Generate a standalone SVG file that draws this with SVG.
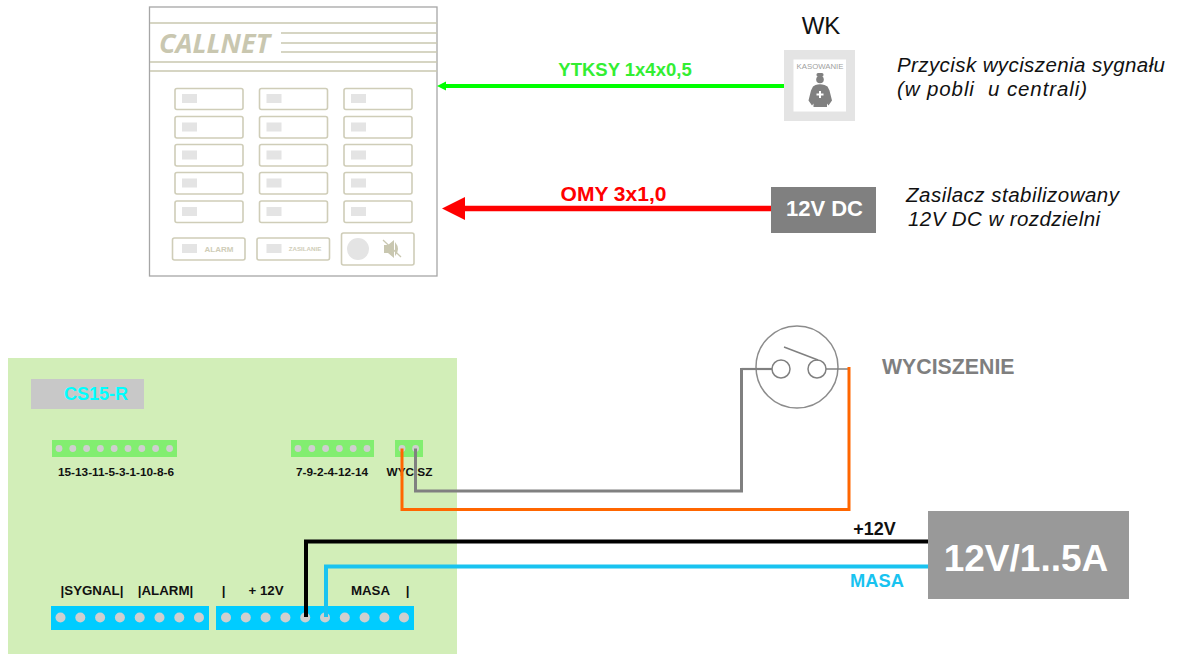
<svg xmlns="http://www.w3.org/2000/svg" width="1179" height="654" viewBox="0 0 1179 654">
<style>
text{font-family:"Liberation Sans",Arial,sans-serif}
.tan{fill:none;stroke:#c9c7b0;stroke-width:1.5}
.btn{fill:#fff;stroke:#cfcdb8;stroke-width:1.6}
.led{fill:#e4e4e4}
.pin{fill:#cfcfcf}
.lbl{font-weight:bold;font-size:11.800px;fill:#111;text-anchor:middle}
.lbl2{font-weight:bold;font-size:13.300px;fill:#111;text-anchor:middle}
.it{font-style:italic;font-size:20.500px;fill:#111;white-space:pre}
.wire{fill:none}
</style>
<g id="panel">
<rect x="149.500" y="7" width="287.500" height="269" fill="#fff" stroke="#a6a6a6" stroke-width="1.300"/>
<path class="tan" d="M150 23H437M150 62H437M150 71H437M281 33H437M281 43H437M281 52H437"/>
<text x="159" y="53" font-size="27" font-weight="bold" font-style="italic" fill="#c9c7b0" textLength="111" lengthAdjust="spacingAndGlyphs" style="font-family:'Open Sans',sans-serif">CALLNET</text>
<g id="panel-buttons">
<rect class="btn" x="175" y="88.500" width="68" height="21" rx="2"/><rect class="led" x="182" y="94" width="15" height="9"/>
<rect class="btn" x="259.500" y="88.500" width="68" height="21" rx="2"/><rect class="led" x="266.500" y="94" width="15" height="9"/>
<rect class="btn" x="344" y="88.500" width="68" height="21" rx="2"/><rect class="led" x="351" y="94" width="15" height="9"/>
<rect class="btn" x="175" y="116.500" width="68" height="21.500" rx="2"/><rect class="led" x="182" y="122.500" width="15" height="9"/>
<rect class="btn" x="259.500" y="116.500" width="68" height="21.500" rx="2"/><rect class="led" x="266.500" y="122.500" width="15" height="9"/>
<rect class="btn" x="344" y="116.500" width="68" height="21.500" rx="2"/><rect class="led" x="351" y="122.500" width="15" height="9"/>
<rect class="btn" x="175" y="144.500" width="68" height="21.500" rx="2"/><rect class="led" x="182" y="150.500" width="15" height="9"/>
<rect class="btn" x="259.500" y="144.500" width="68" height="21.500" rx="2"/><rect class="led" x="266.500" y="150.500" width="15" height="9"/>
<rect class="btn" x="344" y="144.500" width="68" height="21.500" rx="2"/><rect class="led" x="351" y="150.500" width="15" height="9"/>
<rect class="btn" x="175" y="172.500" width="68" height="21.500" rx="2"/><rect class="led" x="182" y="178.500" width="15" height="9"/>
<rect class="btn" x="259.500" y="172.500" width="68" height="21.500" rx="2"/><rect class="led" x="266.500" y="178.500" width="15" height="9"/>
<rect class="btn" x="344" y="172.500" width="68" height="21.500" rx="2"/><rect class="led" x="351" y="178.500" width="15" height="9"/>
<rect class="btn" x="175" y="201" width="68" height="21.500" rx="2"/><rect class="led" x="182" y="207" width="15" height="9"/>
<rect class="btn" x="259.500" y="201" width="68" height="21.500" rx="2"/><rect class="led" x="266.500" y="207" width="15" height="9"/>
<rect class="btn" x="344" y="201" width="68" height="21.500" rx="2"/><rect class="led" x="351" y="207" width="15" height="9"/>
</g>
<rect class="btn" x="172.500" y="238" width="72.500" height="22" rx="2"/><rect class="led" x="182" y="244" width="15" height="9"/>
<text x="219" y="252" font-size="8" font-weight="bold" fill="#cfcdb8" text-anchor="middle">ALARM</text>
<rect class="btn" x="257" y="238" width="72.500" height="22" rx="2"/><rect class="led" x="266.500" y="244" width="15" height="9"/>
<text x="305" y="251" font-size="6.200" font-weight="bold" fill="#cfcdb8" text-anchor="middle">ZASILANIE</text>
<rect class="btn" x="341.500" y="233" width="72.500" height="32" rx="2"/>
<circle cx="358" cy="249" r="11" fill="#e4e4e4"/>
<path d="M384 245h4l6-5v18l-6-5h-4z" fill="#c9c7b0"/>
<path d="M395 242q6 7 0 14z" fill="#c9c7b0"/>
<path d="M383 240L401 257" stroke="#c9c7b0" stroke-width="1.300"/>
</g>
<g id="wk">
<text x="821" y="34" font-size="24" fill="#111" text-anchor="middle">WK</text>
<rect x="784" y="50" width="71" height="71" fill="#e4e4e4"/>
<rect x="793.500" y="59.500" width="52.500" height="52" fill="#fff"/>
<text x="820" y="68.500" font-size="7.800" fill="#a0a0a0" text-anchor="middle">KASOWANIE</text>
<circle cx="820" cy="79.500" r="3.800" fill="#808080"/>
<rect x="816.500" y="73" width="7" height="3.500" rx="1.500" fill="#808080"/>
<path d="M815.500 85q4.500-1.500 9 0l3 1.500 2 4 2.500 10-3.500 5-1.500-2v3.500h-13.500v-3.500l-1.500 2-3.500-5 2.500-10 2-4z" fill="#808080"/>
<path d="M819 91h2v2.500h2.500v2h-2.500v2.500h-2v-2.500h-2.500v-2h2.500z" fill="#fff"/>
</g>
<g id="psu-small">
<rect x="771" y="187" width="105" height="46" fill="#808080"/>
<text x="824.500" y="216" font-size="22" font-weight="bold" fill="#fff" text-anchor="middle">12V DC</text>
</g>
<g id="notes">
<text class="it" x="897" y="72" textLength="268">Przycisk wyciszenia sygnału</text>
<text class="it" x="897" y="96" textLength="190">(w pobli  u centrali)</text>
<text class="it" x="906" y="202" textLength="213">Zasilacz stabilizowany</text>
<text class="it" x="908" y="226" textLength="192">12V DC w rozdzielni</text>
</g>
<g id="board">
<rect x="8" y="358" width="449" height="296" fill="#d2eeb8"/>
<rect x="31" y="379" width="113" height="30" fill="#c8c8c8"/>
<text x="96" y="400" font-size="18" font-weight="bold" fill="#00ffff" text-anchor="middle">CS15-R</text>
<g id="term-a">
<rect x="52" y="440" width="125" height="17" fill="#82ee70"/>
<circle class="pin" cx="59" cy="448.500" r="3.400"/><circle class="pin" cx="72.800" cy="448.500" r="3.400"/><circle class="pin" cx="86.600" cy="448.500" r="3.400"/><circle class="pin" cx="100.400" cy="448.500" r="3.400"/><circle class="pin" cx="114.200" cy="448.500" r="3.400"/><circle class="pin" cx="128" cy="448.500" r="3.400"/><circle class="pin" cx="141.800" cy="448.500" r="3.400"/><circle class="pin" cx="155.600" cy="448.500" r="3.400"/><circle class="pin" cx="169.600" cy="448.500" r="3.400"/>
<text class="lbl" x="116" y="475.500">15-13-11-5-3-1-10-8-6</text>
</g>
<g id="term-b">
<rect x="291" y="440" width="83" height="17" fill="#82ee70"/>
<circle class="pin" cx="298" cy="448.500" r="3.400"/><circle class="pin" cx="311.800" cy="448.500" r="3.400"/><circle class="pin" cx="325.600" cy="448.500" r="3.400"/><circle class="pin" cx="339.400" cy="448.500" r="3.400"/><circle class="pin" cx="353.200" cy="448.500" r="3.400"/><circle class="pin" cx="367" cy="448.500" r="3.400"/>
<text class="lbl" x="332" y="475.500">7-9-2-4-12-14</text>
</g>
<g id="term-c">
<rect x="395" y="440" width="28" height="17" fill="#82ee70"/>
<circle class="pin" cx="402" cy="448.500" r="3.400"/><circle class="pin" cx="415.600" cy="448.500" r="3.400"/>
<text class="lbl" x="409.500" y="475.500">WYC SZ</text>
</g>
<g id="term-d">
<rect x="51" y="606" width="158" height="24" fill="#00ccff"/>
<circle class="pin" cx="60.500" cy="617.500" r="5"/><circle class="pin" cx="80.300" cy="617.500" r="5"/><circle class="pin" cx="100.100" cy="617.500" r="5"/><circle class="pin" cx="119.900" cy="617.500" r="5"/><circle class="pin" cx="139.700" cy="617.500" r="5"/><circle class="pin" cx="159.500" cy="617.500" r="5"/><circle class="pin" cx="179.300" cy="617.500" r="5"/><circle class="pin" cx="199" cy="617.500" r="5"/>
<text class="lbl2" x="92" y="595">|SYGNAL|</text>
<text class="lbl2" x="165.500" y="595">|ALARM|</text>
</g>
<g id="term-e">
<rect x="216" y="606" width="198" height="24" fill="#00ccff"/>
<circle class="pin" cx="226" cy="617.500" r="5"/><circle class="pin" cx="245.800" cy="617.500" r="5"/><circle class="pin" cx="265.600" cy="617.500" r="5"/><circle class="pin" cx="285.400" cy="617.500" r="5"/><circle class="pin" cx="305.200" cy="617.500" r="5"/><circle class="pin" cx="325" cy="617.500" r="5"/><circle class="pin" cx="344.800" cy="617.500" r="5"/><circle class="pin" cx="364.600" cy="617.500" r="5"/><circle class="pin" cx="384.400" cy="617.500" r="5"/><circle class="pin" cx="404" cy="617.500" r="5"/>
<text class="lbl2" x="223.500" y="595">|</text>
<text class="lbl2" x="266" y="595">+ 12V</text>
<text class="lbl2" x="370.500" y="595">MASA</text>
<text class="lbl2" x="407.500" y="595">|</text>
</g>
</g>
<g id="switch">
<circle cx="797" cy="367" r="41" fill="#fff" stroke="#8c8c8c" stroke-width="1.500"/>
<circle cx="781" cy="369" r="9" fill="#fff" stroke="#808080" stroke-width="1.500"/>
<circle cx="817" cy="369" r="9" fill="#fff" stroke="#808080" stroke-width="1.500"/>
<path d="M784 347L818 360" stroke="#808080" stroke-width="1.500" fill="none"/>
</g>
<text id="switch-label" x="882" y="374" font-size="21.300" font-weight="bold" fill="#7f7f7f">WYCISZENIE</text>
<g id="psu-main">
<rect x="928" y="511" width="201" height="88" fill="#999"/>
<text x="1026" y="571" font-size="37" font-weight="bold" fill="#fff" text-anchor="middle">12V/1..5A</text>
</g>
<g id="connectors">
<path class="wire" d="M784 86H445" stroke="#00ff00" stroke-width="4"/>
<path d="M437 86L446 81.500V90.500Z" fill="#00ff00"/>
<path class="wire" d="M771 208.500H460" stroke="#ff0000" stroke-width="5.500"/>
<path d="M442 208.500L465 197V220Z" fill="#ff0000"/>
<path class="wire" d="M772 369H741.500" stroke="#808080" stroke-width="2.200"/>
<path class="wire" d="M741.500 368V491H415.500V448.500" stroke="#808080" stroke-width="3"/>
<path class="wire" d="M826 369H848" stroke="#808080" stroke-width="1.500"/>
<path class="wire" d="M849 367V509.500H402V448.500" stroke="#ff6600" stroke-width="3"/>
<path class="wire" d="M928 541.500H306V617" stroke="#000" stroke-width="4"/>
<path class="wire" d="M928 566.500H326V617" stroke="#19c3f0" stroke-width="4"/>
</g>
<g id="connector-labels">
<text x="625" y="76" font-size="18.500" font-weight="bold" fill="#33ee33" text-anchor="middle">YTKSY 1x4x0,5</text>
<text x="613.500" y="201" font-size="21" font-weight="bold" fill="#ff0000" text-anchor="middle">OMY 3x1,0</text>
<text x="874.500" y="535" font-size="18" font-weight="bold" fill="#111" text-anchor="middle">+12V</text>
<text x="877" y="587" font-size="18.300" font-weight="bold" fill="#19c3f0" text-anchor="middle">MASA</text>
</g>
</svg>
